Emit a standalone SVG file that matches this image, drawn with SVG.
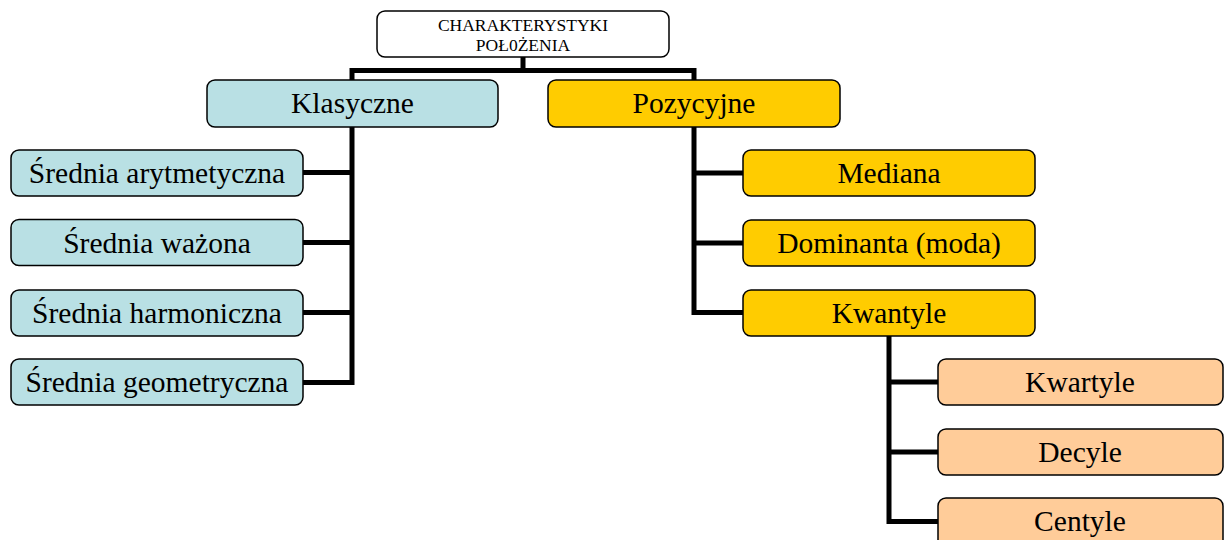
<svg xmlns="http://www.w3.org/2000/svg" width="1225" height="540" viewBox="0 0 1225 540">
<style>
.box{stroke:#000;stroke-width:1.5}
.blue{fill:#B9E0E4}
.gold{fill:#FFCC00}
.peach{fill:#FFCC99}
.white{fill:#fff}
text{font-family:"Liberation Serif","Times New Roman",serif;fill:#000;text-anchor:middle}
.t{font-size:29.5px}
.s{font-size:17.5px}
.c{fill:none;stroke:#000;stroke-width:5;stroke-linejoin:miter;stroke-linecap:butt}
</style>
<rect width="1225" height="540" fill="#fff"/>
<g id="connectors">
<path class="c" d="M523 57V70.5M352 70.5H694M352 68V80M694 68V80"/>
<path class="c" d="M352 127V382.5M303 172.5H354.5M303 242.5H354.5M303 312.5H354.5M303 382.5H354.5"/>
<path class="c" d="M694 127V312.5M691.5 173H743M691.5 243H743M691.5 312.5H743"/>
<path class="c" d="M889 336V521.5M886.5 382H938M886.5 452H938M886.5 521.5H938"/>
</g>
<g id="root"><rect class="box white" x="377" y="11" width="292" height="46" rx="8"/><text class="s" x="523" y="31">CHARAKTERYSTYKI</text><text class="s" x="523" y="51">POŁ0ŻENIA</text></g>
<g id="klasyczne"><rect class="box blue" x="207" y="80" width="291" height="47" rx="8"/><text class="t" x="352.5" y="113">Klasyczne</text></g>
<g id="pozycyjne"><rect class="box gold" x="548" y="80" width="292" height="47" rx="8"/><text class="t" x="694" y="113">Pozycyjne</text></g>
<g id="arytmetyczna"><rect class="box blue" x="11" y="150" width="292" height="46" rx="8"/><text class="t" x="157" y="183">Średnia arytmetyczna</text></g>
<g id="wazona"><rect class="box blue" x="11" y="219.5" width="292" height="46" rx="8"/><text class="t" x="157" y="252.5">Średnia ważona</text></g>
<g id="harmoniczna"><rect class="box blue" x="11" y="290" width="292" height="46" rx="8"/><text class="t" x="157" y="323">Średnia harmoniczna</text></g>
<g id="geometryczna"><rect class="box blue" x="11" y="359" width="292" height="46" rx="8"/><text class="t" x="157" y="392">Średnia geometryczna</text></g>
<g id="mediana"><rect class="box gold" x="743" y="150" width="292" height="46" rx="8"/><text class="t" x="889" y="183">Mediana</text></g>
<g id="dominanta"><rect class="box gold" x="743" y="220" width="292" height="46" rx="8"/><text class="t" x="889" y="253">Dominanta (moda)</text></g>
<g id="kwantyle"><rect class="box gold" x="743" y="290" width="292" height="46" rx="8"/><text class="t" x="889" y="322.5">Kwantyle</text></g>
<g id="kwartyle"><rect class="box peach" x="938" y="359" width="285" height="46" rx="8"/><text class="t" x="1080" y="392">Kwartyle</text></g>
<g id="decyle"><rect class="box peach" x="938" y="429" width="285" height="46" rx="8"/><text class="t" x="1080" y="462">Decyle</text></g>
<g id="centyle"><rect class="box peach" x="938" y="498" width="285" height="50" rx="8"/><text class="t" x="1080" y="531">Centyle</text></g>
</svg>
